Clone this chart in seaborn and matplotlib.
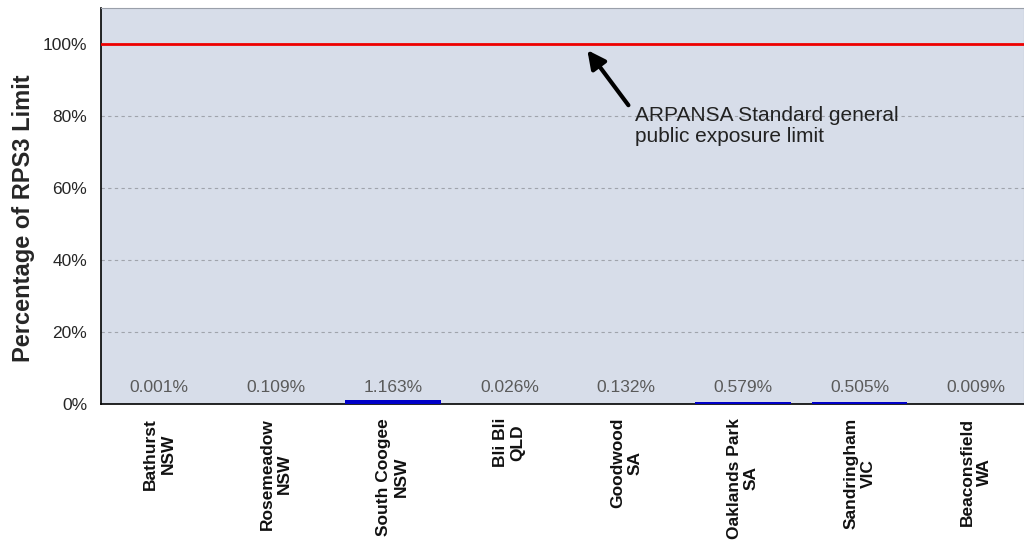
import matplotlib
matplotlib.use("Agg")
import matplotlib.pyplot as plt
import seaborn as sns
import pandas as pd
import numpy as np
from matplotlib.ticker import MultipleLocator, FixedLocator, FuncFormatter

sites = ["Bathurst\nNSW", "Rosemeadow\nNSW", "South Coogee\nNSW", "Bli Bli\nQLD",
         "Goodwood\nSA", "Oaklands Park\nSA", "Sandringham\nVIC", "Beaconsfield\nWA"]
values = [0.001, 0.109, 1.163, 0.026, 0.132, 0.579, 0.505, 0.009]
value_labels = ["0.001%", "0.109%", "1.163%", "0.026%", "0.132%", "0.579%", "0.505%", "0.009%"]
limit = 100
annotation = "ARPANSA Standard general\npublic exposure limit"

sns.set_theme(style="white")
plt.rcParams['font.family'] = ['Liberation Sans', 'DejaVu Sans']

fig = plt.figure(figsize=(10.24, 5.42), dpi=100)
ax = fig.add_axes([0.0986, 0.2546, 0.9014, 0.7306])
ax.set_facecolor("#d7dde9")

df = pd.DataFrame({"site": sites, "value": values})
sns.barplot(data=df, x="site", y="value", color="#0000c8", width=0.82,
            saturation=1, linewidth=0, edgecolor="none", ax=ax, zorder=3)

ax.set_ylim(0, 110)
ax.set_xlim(-0.5, 7.41)
ax.yaxis.set_major_locator(FixedLocator([0, 20, 40, 60, 80, 100]))
ax.yaxis.set_minor_locator(MultipleLocator(10))
ax.yaxis.set_major_formatter(FuncFormatter(lambda v, p: f"{int(v)}%"))
for yv in [20, 40, 60, 80]:
    ax.axhline(yv, color="#a0a4ac", lw=0.8, ls=(0, (3, 3)), zorder=1)
ax.axhline(limit, color="#ee0000", lw=2, zorder=4)

ax.xaxis.set_major_locator(FixedLocator(range(len(sites))))
ax.set_xticklabels(sites, rotation=90, fontsize=12.5, fontweight="bold", color="#111111",
                   ha="center", va="top", multialignment="center")
ax.xaxis.set_minor_locator(FixedLocator(np.arange(-0.5, 8, 1)))
ax.tick_params(axis="x", which="major", length=0, pad=10)
ax.tick_params(axis="x", which="minor", length=5, width=1.2, color="black", direction="out")
ax.tick_params(axis="y", which="major", length=6, width=1, color="black", direction="out",
               labelsize=12.5, pad=4)
ax.tick_params(axis="y", which="minor", length=5, width=1, color="black", direction="out")

for s in ["top", "right"]:
    ax.spines[s].set_color("#9aa0aa")
    ax.spines[s].set_linewidth(0.8)
for s in ["left", "bottom"]:
    ax.spines[s].set_color("black")
    ax.spines[s].set_linewidth(1.2)

for i, lab in enumerate(value_labels):
    ax.text(i, 2.6, lab, ha="center", va="bottom", fontsize=12.5, color="#5a5a5a", zorder=5)

ax.set_xlabel("")
ax.set_ylabel("Percentage of RPS3 Limit", fontsize=17, fontweight="bold")
ax.yaxis.set_label_coords(-0.071, 0.47)

ax.text(4.08, 77.2, annotation, fontsize=15, color="#222222",
        ha="left", va="center", linespacing=1.12, zorder=5)
ax.annotate("", xy=(3.668, 98.3), xytext=(4.02, 83),
            arrowprops=dict(arrowstyle="-|>,head_length=0.9,head_width=0.45", color="black",
                            lw=3, shrinkA=0, shrinkB=0), zorder=5)

fig.savefig("out.png", dpi=100)
